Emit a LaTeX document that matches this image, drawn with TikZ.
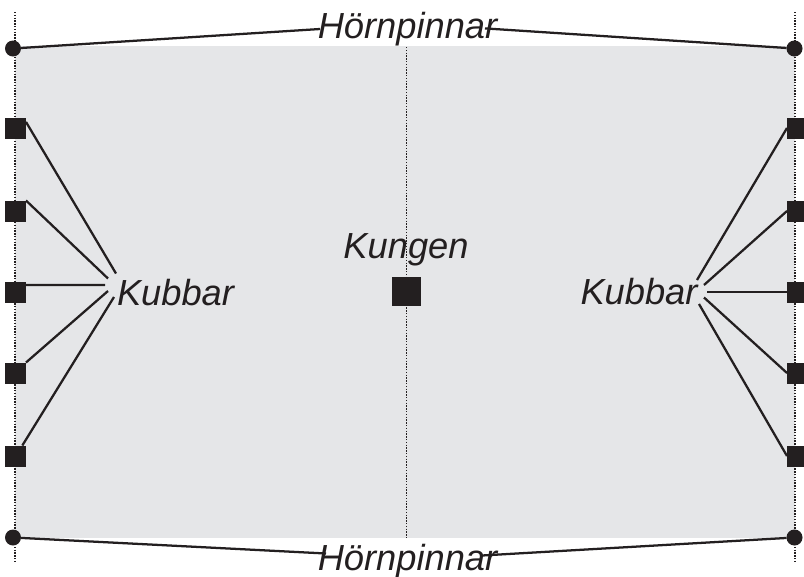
\documentclass[tikz,border=0pt]{standalone}
\usepackage{fontspec}
\setmainfont{Liberation Sans}
\definecolor{ink}{HTML}{231F20}
\definecolor{field}{HTML}{E5E6E8}
\tikzset{
  kubb/.style={fill=ink,draw=none,minimum size=15.75pt,inner sep=0pt,outer sep=0pt},
  king/.style={fill=ink,draw=none,minimum size=21.75pt,inner sep=0pt,outer sep=0pt},
  pin/.style={circle,fill=ink,draw=none,minimum size=12pt,inner sep=0pt,outer sep=0pt},
  lab/.style={inner sep=0pt,anchor=base,text=ink,font=\fontsize{27.2pt}{30pt}\selectfont\itshape},
  conn/.style={draw=ink,line width=1.7pt},
  edgedots/.style={draw=ink,line width=1.2pt,dash pattern=on 1.05pt off 1.05pt},
  middots/.style={draw=ink,line width=0.8pt,dash pattern=on 1.05pt off 1.05pt}
}
\begin{document}
\begin{tikzpicture}[x=0.75pt,y=-0.75pt]
\useasboundingbox (0,0) rectangle (804,576);
\fill[field] (14.7,45.5) rectangle (795,538);
\coordinate (lt) at (14.7,12); \coordinate (lb) at (14.7,561);
\coordinate (rt) at (794.7,12); \coordinate (rb) at (794.7,561);
\coordinate (ct) at (406.5,47); \coordinate (cb) at (406.5,538);
\draw[edgedots] (lt) -- (lb);
\draw[edgedots] (rt) -- (rb);
\draw[middots] (ct) -- (cb);
\node[pin] (p1) at (13,48.5) {};
\node[pin] (p2) at (794.5,48.5) {};
\node[pin] (p3) at (13,537.5) {};
\node[pin] (p4) at (794.5,537.5) {};
\foreach \n/\y in {1/128,2/211,3/292,4/373,5/456}{
  \node[kubb] (a\n) at (15.5,\y) {};
  \node[kubb] (b\n) at (797.5,\y) {};
}
\node[king] (k) at (406.5,291.5) {};
\node[lab] (top) at (407.5,38) {Hörnpinnar};
\node[lab] (bot) at (407.5,570) {Hörnpinnar};
\node[lab] (kung) at (406,258) {Kungen};
\node[lab] (kl) at (175.5,305) {Kubbar};
\node[lab] (kr) at (639,304) {Kubbar};
\coordinate (t1) at (320,29); \coordinate (t2) at (485,28.4);
\coordinate (u1) at (326,553.5); \coordinate (u2) at (482,555.5);
\draw[conn] (p1) -- (t1);
\draw[conn] (p2) -- (t2);
\draw[conn] (p3) -- (u1);
\draw[conn] (p4) -- (u2);
\coordinate (l1) at (116,273.5); \coordinate (l2) at (108,278.5); \coordinate (l3) at (105,285); \coordinate (l4) at (108,291); \coordinate (l5) at (114,297);
\coordinate (r1) at (697,280); \coordinate (r2) at (704,285); \coordinate (r3) at (707,292); \coordinate (r4) at (704,297.5); \coordinate (r5) at (699,304);
\draw[conn] (a1.30) -- (l1);
\draw[conn] (a2.45) -- (l2);
\draw[conn] (a3.34) -- (l3);
\draw[conn] (a4.45) -- (l4);
\draw[conn] (a5.57) -- (l5);
\draw[conn] (b1.west) -- (r1);
\draw[conn] (b2.west) -- (r2);
\draw[conn] (b3.west) -- (r3);
\draw[conn] (b4.west) -- (r4);
\draw[conn] (b5.west) -- (r5);
\end{tikzpicture}
\end{document}
